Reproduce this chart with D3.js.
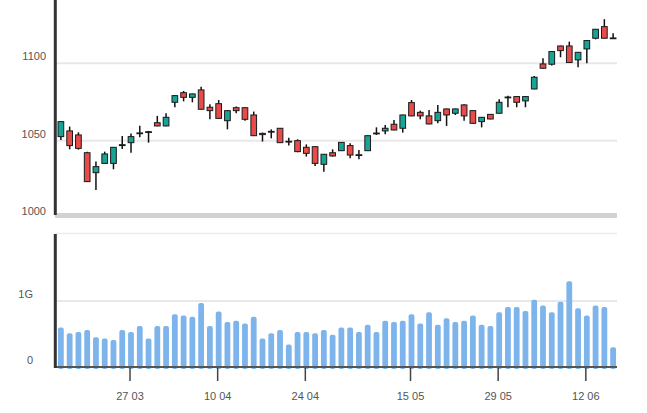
<!DOCTYPE html>
<html>
<head>
<meta charset="utf-8">
<script src="https://cdn.jsdelivr.net/npm/d3@7/dist/d3.min.js"></script>
<style>
  html, body { margin: 0; padding: 0; background: #fff; }
  svg { display: block; }
  text { font-family: "Liberation Sans", Arial, sans-serif; }
</style>
</head>
<body>
<svg id="chart" width="647" height="413"></svg>
<script>
const openP  = [1052.6,1056.3,1053.7,1042.2,1029.3,1035.3,1035.3,1046.8,1048.7,1054.5,1055.8,1061.6,1059.5,1074.8,1081.0,1078.0,1082.8,1071.6,1073.9,1062.9,1071.3,1071.3,1066.6,1054.7,1056.0,1058.0,1049.6,1050.0,1045.7,1046.1,1034.7,1042.2,1043.5,1046.8,1040.9,1043.5,1054.5,1056.3,1060.6,1058.0,1074.6,1068.3,1066.0,1062.9,1070.5,1067.7,1073.1,1069.4,1062.3,1067.0,1067.7,1078.2,1078.5,1075.7,1083.4,1099.6,1099.4,1111.2,1111.2,1102.2,1109.3,1116.2,1123.7,1116.4];
const highP  = [1062.7,1059.1,1055.4,1042.9,1036.6,1042.9,1045.9,1053.0,1054.7,1059.7,1056.3,1066.0,1067.7,1079.3,1082.1,1080.4,1084.9,1073.5,1076.3,1069.6,1072.0,1071.5,1068.8,1055.2,1057.3,1058.2,1051.9,1050.9,1047.6,1046.3,1041.4,1044.4,1049.1,1048.3,1044.0,1053.4,1058.6,1060.1,1063.4,1066.8,1076.3,1069.4,1069.8,1073.1,1070.7,1070.7,1073.5,1069.6,1065.3,1067.2,1076.7,1079.1,1078.7,1078.7,1091.8,1103.3,1107.8,1111.4,1114.0,1107.3,1114.9,1122.2,1128.5,1119.4];
const lowP   = [1050.4,1044.4,1044.2,1023.3,1018.1,1034.9,1031.5,1044.6,1042.2,1052.2,1048.7,1059.3,1059.3,1071.6,1075.4,1074.8,1070.1,1063.8,1064.2,1057.3,1067.7,1062.9,1053.0,1049.4,1051.5,1048.5,1046.8,1042.5,1039.7,1033.6,1029.9,1039.7,1043.3,1038.6,1037.9,1043.3,1053.7,1054.1,1056.7,1055.2,1065.8,1063.8,1060.6,1061.2,1059.5,1066.6,1062.9,1061.0,1058.6,1063.8,1067.5,1071.6,1071.6,1071.6,1083.2,1096.6,1098.5,1103.9,1100.3,1097.4,1100.0,1115.5,1116.0,1115.8];
const closeP = [1062.3,1046.8,1045.0,1023.5,1033.2,1041.4,1045.7,1047.4,1052.6,1055.0,1055.4,1059.5,1065.1,1079.1,1078.0,1080.2,1070.3,1069.4,1064.4,1069.4,1069.4,1063.8,1053.2,1053.9,1055.5,1048.7,1049.2,1042.9,1041.8,1035.3,1041.2,1040.1,1048.9,1040.7,1040.5,1053.2,1054.9,1058.0,1056.9,1066.6,1066.0,1066.0,1060.8,1068.3,1066.6,1070.5,1066.0,1061.2,1065.1,1064.0,1074.8,1077.8,1074.8,1078.5,1091.0,1096.8,1107.6,1108.2,1100.5,1107.1,1114.7,1122.0,1116.2,1116.0];
// volume in billions
const volumeG = [0.60,0.51,0.53,0.56,0.45,0.43,0.41,0.56,0.53,0.62,0.43,0.62,0.62,0.80,0.78,0.76,0.97,0.62,0.84,0.68,0.70,0.66,0.76,0.43,0.51,0.56,0.34,0.53,0.53,0.51,0.56,0.49,0.60,0.60,0.53,0.64,0.53,0.70,0.68,0.70,0.80,0.66,0.83,0.64,0.74,0.68,0.70,0.78,0.64,0.62,0.83,0.91,0.91,0.85,1.02,0.93,0.83,0.99,1.30,0.89,0.78,0.93,0.91,0.30];
const tickIndex = [8, 18, 28, 40, 50, 60];
const tickLabels = ["27 03", "10 04", "24 04", "15 05", "29 05", "12 06"];
const priceTicks = [1000, 1050, 1100];
const volumeTicks = [0, 1e9];

const svg = d3.select("#chart");
const n = openP.length;
const x = d3.scaleBand().domain(d3.range(n)).range([56.5, 617.5]).padding(0);
const bw = x.bandwidth();
const cx = i => x(i) + bw / 2;

const yP = d3.scaleLinear().domain([1000, 1100]).range([218, 63.3]);
const yV = d3.scaleLinear().domain([0, 2e9]).range([367, 235]);

const UP = "#17a395", DOWN = "#e84c4a", TXT = "#555";

// ---- price panel ----
const gP = svg.append("g");
gP.selectAll("line.grid").data([1050, 1100]).join("line")
  .attr("x1", 55).attr("x2", 617)
  .attr("y1", d => yP(d)).attr("y2", d => yP(d))
  .attr("stroke", "#e8e8e8").attr("stroke-width", 2);
gP.append("rect").attr("x", 55).attr("y", yP(1000) - 5).attr("width", 562).attr("height", 5)
  .attr("fill", "#d2d2d2");
gP.selectAll("text.pt").data(priceTicks).join("text")
  .attr("x", 46).attr("y", d => yP(d) - 3)
  .attr("text-anchor", "end").attr("font-size", 11).attr("fill", TXT)
  .text(d => d);

const candles = gP.append("g").selectAll("g").data(d3.range(n)).join("g");
candles.append("line")
  .attr("x1", cx).attr("x2", cx)
  .attr("y1", i => yP(highP[i])).attr("y2", i => yP(lowP[i]))
  .attr("stroke", "#111").attr("stroke-width", 1.5);
const cw = bw * 0.65;
candles.append("rect")
  .attr("x", i => cx(i) - cw / 2)
  .attr("width", cw)
  .attr("y", i => yP(Math.max(openP[i], closeP[i])))
  .attr("height", i => Math.max(0.8, Math.abs(yP(openP[i]) - yP(closeP[i]))))
  .attr("fill", i => closeP[i] >= openP[i] ? UP : DOWN)
  .attr("stroke", "#1a1a1a").attr("stroke-width", 1);

gP.append("line").attr("x1", 55.3).attr("x2", 55.3).attr("y1", 0).attr("y2", 215)
  .attr("stroke", "#333").attr("stroke-width", 3);

// ---- volume panel ----
const gV = svg.append("g");
gV.append("line").attr("x1", 55).attr("x2", 617).attr("y1", 233.5).attr("y2", 233.5)
  .attr("stroke", "#ececec").attr("stroke-width", 1.5);
gV.append("line").attr("x1", 55).attr("x2", 617).attr("y1", yV(1e9)).attr("y2", yV(1e9))
  .attr("stroke", "#e8e8e8").attr("stroke-width", 2);
const vw = bw * 0.66;
gV.selectAll("rect.v").data(d3.range(n)).join("rect")
  .attr("x", i => cx(i) - vw / 2).attr("width", vw)
  .attr("y", i => yV(volumeG[i] * 1e9))
  .attr("height", i => yV(0) - yV(volumeG[i] * 1e9) + 2)
  .attr("rx", 2).attr("fill", "#7db4ec");
const fmt = d3.format("~s");
gV.selectAll("text.vt").data(volumeTicks).join("text")
  .attr("x", 33).attr("y", d => yV(d) - 3)
  .attr("text-anchor", "end").attr("font-size", 11).attr("fill", TXT)
  .text(d => fmt(d));

gV.append("line").attr("x1", 55).attr("x2", 617).attr("y1", 367).attr("y2", 367)
  .attr("stroke", "#555").attr("stroke-width", 2);
gV.append("line").attr("x1", 55.3).attr("x2", 55.3).attr("y1", 234).attr("y2", 368)
  .attr("stroke", "#333").attr("stroke-width", 3);

// x-axis ticks
const gX = svg.append("g");
gX.selectAll("line").data(tickIndex).join("line")
  .attr("x1", i => cx(i) - 1).attr("x2", i => cx(i) - 1)
  .attr("y1", 368).attr("y2", 381)
  .attr("stroke", "#444").attr("stroke-width", 1.5);
gX.selectAll("text").data(tickIndex).join("text")
  .attr("x", i => cx(i) - 1).attr("y", 400)
  .attr("text-anchor", "middle").attr("font-size", 11).attr("fill", TXT)
  .text((d, k) => tickLabels[k]);
</script>
</body>
</html>
